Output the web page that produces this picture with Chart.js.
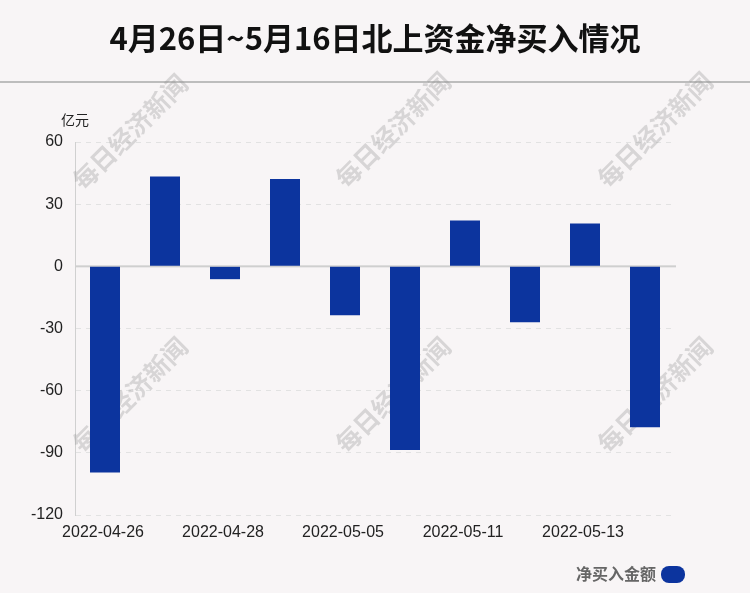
<!DOCTYPE html>
<html>
<head>
<meta charset="utf-8">
<script src="https://cdn.jsdelivr.net/npm/chart.js@4.4.0/dist/chart.umd.min.js"></script>
<style>
  html, body { margin: 0; padding: 0; background: #f8f5f6; }
  #wrap { position: relative; width: 750px; height: 593px; }
</style>
</head>
<body>
<div id="wrap"><canvas id="chart" width="750" height="593"></canvas></div>
<script>
// 北上资金每日净买入（亿元）
const dates = ["2022-04-26", "2022-04-27", "2022-04-28", "2022-04-29", "2022-05-05",
               "2022-05-06", "2022-05-11", "2022-05-12", "2022-05-13", "2022-05-16"];
const netBuy = [-99.5, 43.3, -6.2, 42.2, -23.6, -88.6, 22.1, -27.0, 20.7, -77.6];
const yTicks = [60, 30, 0, -30, -60, -90, -120];

const titleText = "4月26日~5月16日北上资金净买入情况";
const seriesName = "净买入金额";
const unitText = "亿元";
const markText = "每日经济新闻";
const barColor = "#0c349e";
const cjk = "'Noto Sans CJK SC', 'Liberation Sans', sans-serif";

// 标题、分隔线、水印、图例都画在画布上
const decor = {
  id: "decor",
  beforeDraw(chart) {
    const ctx = chart.ctx;
    ctx.save();
    ctx.fillStyle = "#f8f5f6";
    ctx.fillRect(0, 0, chart.width, chart.height);
    ctx.fillStyle = "#111";
    ctx.font = "bold 31px " + cjk;
    ctx.textAlign = "center";
    ctx.textBaseline = "middle";
    ctx.fillText(titleText, 375, 38);
    ctx.fillStyle = "#bdbdbd";
    ctx.fillRect(0, 81, chart.width, 2);
    ctx.fillStyle = "#222";
    ctx.font = "14px " + cjk;
    ctx.textAlign = "left";
    ctx.fillText(unitText, 61, 120);
    ctx.restore();
  },
  beforeDatasetsDraw(chart) {
    const ctx = chart.ctx;
    ctx.save();
    ctx.fillStyle = "rgba(150,150,150,0.33)";
    ctx.font = "bold 25px " + cjk;
    ctx.textAlign = "center";
    ctx.textBaseline = "middle";
    [[130, 132], [393, 130], [655, 130], [130, 395], [393, 395], [655, 395]].forEach(([x, y]) => {
      ctx.save();
      ctx.translate(x, y);
      ctx.rotate(-Math.PI / 4);
      ctx.fillText(markText, 0, 0);
      ctx.restore();
    });
    // 零轴
    const y0 = chart.scales.y.getPixelForValue(0);
    ctx.fillStyle = "#cfcfcf";
    ctx.fillRect(chart.chartArea.left, y0 - 1, chart.chartArea.right - chart.chartArea.left + 1, 2);
    ctx.restore();
  },
  afterDraw(chart) {
    const ctx = chart.ctx;
    ctx.save();
    ctx.fillStyle = "#666";
    ctx.font = "bold 16px " + cjk;
    ctx.textAlign = "right";
    ctx.textBaseline = "middle";
    ctx.fillText(seriesName, 656, 574);
    ctx.fillStyle = barColor;
    ctx.beginPath();
    ctx.roundRect(661, 566, 24, 17, 8);
    ctx.fill();
    ctx.restore();
  }
};

new Chart(document.getElementById("chart"), {
  type: "bar",
  data: {
    labels: dates,
    datasets: [{
      label: seriesName,
      data: netBuy,
      backgroundColor: barColor,
      barPercentage: 0.5,
      categoryPercentage: 1
    }]
  },
  options: {
    responsive: false,
    animation: false,
    layout: { padding: { top: 142, right: 75, left: 0, bottom: 0 } },
    plugins: { legend: { display: false }, tooltip: { enabled: false } },
    scales: {
      x: {
        grid: { display: false },
        border: { display: false },
        afterFit(scale) { scale.height = 78; },
        ticks: {
          autoSkip: false,
          maxRotation: 0,
          padding: 0,
          labelOffset: -2,
          color: "#222",
          font: { size: 16, family: "'Liberation Sans', sans-serif" },
          callback(v, i) { return i % 2 === 0 ? dates[i] : ""; }
        }
      },
      y: {
        min: -120,
        max: 60,
        afterFit(scale) { scale.width = 75; },
        afterBuildTicks(scale) { scale.ticks = yTicks.map(v => ({ value: v })); },
        grid: { color: "#e2e2e2", drawTicks: false },
        border: { display: true, color: "#d0d0d0", width: 1, dash: [5, 5] },
        ticks: {
          padding: 12,
          color: "#222",
          font: { size: 16, family: "'Liberation Sans', sans-serif" }
        }
      }
    }
  },
  plugins: [decor]
});
</script>
</body>
</html>
